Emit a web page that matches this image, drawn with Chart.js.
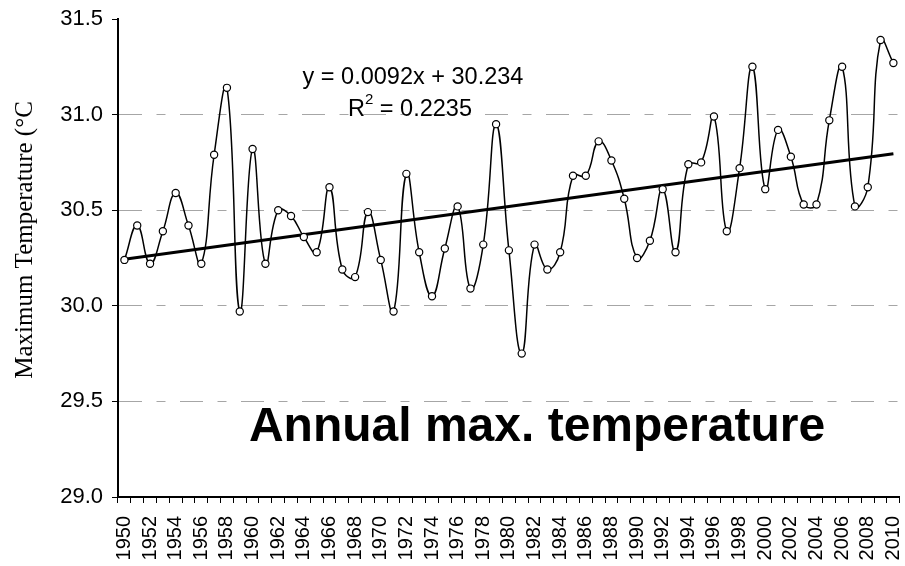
<!DOCTYPE html>
<html><head><meta charset="utf-8">
<script src="https://cdn.jsdelivr.net/npm/chart.js@4/dist/chart.umd.min.js"></script>
<style>html,body{margin:0;padding:0;background:#fff;}#wrap{width:905px;height:566px;}</style>
</head><body><div id="wrap"><canvas id="c" width="905" height="566"></canvas></div>
<script>
const years = ['1950','1951','1952','1953','1954','1955','1956','1957','1958','1959',
  '1960','1961','1962','1963','1964','1965','1966','1967','1968','1969',
  '1970','1971','1972','1973','1974','1975','1976','1977','1978','1979',
  '1980','1981','1982','1983','1984','1985','1986','1987','1988','1989',
  '1990','1991','1992','1993','1994','1995','1996','1997','1998','1999',
  '2000','2001','2002','2003','2004','2005','2006','2007','2008','2009','2010'];
const maxTemp = [30.24,30.42,30.22,30.39,30.59,30.42,30.22,30.79,31.14,29.97,
  30.82,30.22,30.50,30.47,30.36,30.28,30.62,30.19,30.15,30.49,
  30.24,29.97,30.69,30.28,30.05,30.30,30.52,30.09,30.32,30.95,
  30.29,29.75,30.32,30.19,30.28,30.68,30.68,30.86,30.76,30.56,
  30.25,30.34,30.61,30.28,30.74,30.75,30.99,30.39,30.72,31.25,
  30.61,30.92,30.78,30.53,30.53,30.97,31.25,30.52,30.62,31.39,31.27];
const trendYears = ['1950','2010'];
const trendValues = [30.243, 30.795];
const yTicks = [29.0, 29.5, 30.0, 30.5, 31.0, 31.5];
const equationText = 'y = 0.0092x + 30.234';
const r2Value = '0.2235';
const chartTitle = 'Annual max. temperature';
const yTitle = 'Maximum Temperature (°C';

const SANS = "'Liberation Sans', Arial, sans-serif";
const SERIF = "'Liberation Serif', 'Times New Roman', serif";

const annot = {
  id: 'annot',
  afterDraw(chart) {
    const ctx = chart.ctx;
    ctx.save();
    ctx.fillStyle = '#000';
    ctx.font = '23.5px ' + SANS;
    ctx.textAlign = 'center';
    ctx.textBaseline = 'alphabetic';
    ctx.fillText(equationText, 413, 84);
    const p1 = 'R', p3 = ' = ' + r2Value;
    const w1 = ctx.measureText(p1).width;
    ctx.font = '15px ' + SANS;
    const w2 = ctx.measureText('2').width;
    ctx.font = '23.5px ' + SANS;
    const w3 = ctx.measureText(p3).width;
    let x = 410 - (w1 + w2 + w3) / 2;
    ctx.textAlign = 'left';
    ctx.fillText(p1, x, 116); x += w1;
    ctx.font = '15px ' + SANS;
    ctx.fillText('2', x, 104); x += w2;
    ctx.font = '23.5px ' + SANS;
    ctx.fillText(p3, x, 116);
    ctx.font = 'bold 48px ' + SANS;
    ctx.textAlign = 'center';
    ctx.fillText(chartTitle, 537, 441);
    ctx.translate(25, 240);
    ctx.rotate(-Math.PI / 2);
    ctx.font = '25px ' + SERIF;
    ctx.textBaseline = 'middle';
    ctx.fillText(yTitle, 0, 0);
    ctx.restore();
  }
};

new Chart(document.getElementById('c'), {
  type: 'line',
  data: {
    labels: years,
    datasets: [
      {
        label: 'Annual max. temperature',
        data: maxTemp,
        borderColor: '#000',
        borderWidth: 1.5,
        tension: 0.45,
        pointRadius: 3.6,
        pointBorderWidth: 1.2,
        pointBackgroundColor: '#fff',
        pointBorderColor: '#000',
        fill: false,
        order: 1
      },
      {
        label: 'Linear trend',
        data: trendYears.map((y, i) => ({x: y, y: trendValues[i]})),
        borderColor: '#000',
        borderWidth: 3,
        pointRadius: 0,
        tension: 0,
        fill: false,
        order: 2
      }
    ]
  },
  options: {
    responsive: false,
    animation: false,
    devicePixelRatio: 1,
    layout: { padding: { top: 19, right: 2, bottom: 0, left: 0 } },
    plugins: { legend: { display: false }, tooltip: { enabled: false }, title: { display: false } },
    scales: {
      x: {
        type: 'category',
        offset: true,
        grid: { display: true, drawOnChartArea: false, offset: true, tickLength: 6, tickColor: '#000', tickWidth: 1, color: '#000' },
        border: { display: true, color: '#000', width: 2 },
        ticks: {
          autoSkip: false, minRotation: 90, maxRotation: 90, padding: 13,
          color: '#000', font: { family: SANS, size: 20 },
          callback: (v, i) => (i % 2 === 0 ? years[i] : '')
        },
        afterFit: (s) => { s.height = 69; s.paddingLeft = 0; s.paddingRight = 0; }
      },
      y: {
        type: 'linear',
        min: 29, max: 31.5,
        afterBuildTicks: (s) => { s.ticks = yTicks.map(v => ({ value: v })); },
        ticks: { color: '#000', font: { family: SANS, size: 22 }, padding: 9, callback: (v) => Number(v).toFixed(1) },
        grid: {
          color: (c) => (c.tick && (c.tick.value === 31.5 || c.tick.value === 29)) ? 'rgba(0,0,0,0)' : '#a6a6a6',
          lineWidth: 1, tickLength: 6, tickColor: '#000', tickWidth: 1, tickBorderDash: []
        },
        border: { display: true, color: '#000', width: 2, dash: [23, 14.5, 9, 14.5] },
        afterFit: (s) => { s.width = 118; s.paddingTop = 0; s.paddingBottom = 0; }
      }
    }
  },
  plugins: [annot]
});
</script></body></html>
